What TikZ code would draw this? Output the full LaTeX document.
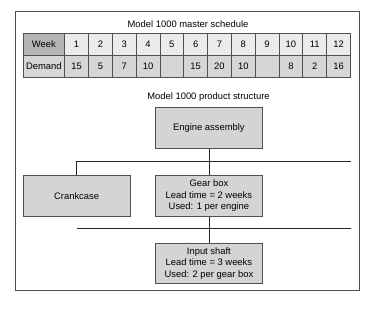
\documentclass[tikz,border=0pt]{standalone}
\usepackage{fontspec}
\setmainfont{Liberation Sans}
\definecolor{hdr}{HTML}{B4B4B4}
\definecolor{rowa}{HTML}{EBEBEB}
\definecolor{rowb}{HTML}{D6D6D6}
\definecolor{boxfill}{HTML}{D4D4D4}
\definecolor{edge}{HTML}{505050}
\begin{document}
\begin{tikzpicture}[x=1pt,y=-1pt,
  every node/.style={font=\fontsize{9.4}{11.6}\selectfont},
  cellstyle/.style={draw=edge,line width=0.8pt,minimum height=22pt,inner sep=0pt,anchor=north west},
  partbox/.style={draw=edge,line width=0.8pt,fill=boxfill,minimum width=107pt,minimum height=41pt,align=center,inner sep=1pt,anchor=north west},
  link/.style={draw=black!85,line width=0.7pt}]
\useasboundingbox (0,0) rectangle (376,311);
\draw[edge,line width=0.8pt] (15,11) rectangle (359,290);
\node (t1) at (188,24) {Model 1000 master schedule};
% table
\node[cellstyle,fill=hdr,minimum width=41.6pt] (wk) at (22.7,33) {Week};
\node[cellstyle,fill=rowb,minimum width=41.6pt] (dm) at (22.7,55) {Demand};
\foreach \i/\d in {1/15,2/5,3/7,4/10,5/,6/15,7/20,8/10,9/,10/8,11/2,12/16}{
  \node[cellstyle,fill=rowa,minimum width=23.81pt] (w\i) at ({64.3+(\i-1)*23.81},33) {\i};
  \node[cellstyle,fill=rowb,minimum width=23.81pt] (d\i) at ({64.3+(\i-1)*23.81},55) {\d};
}
\node (t2) at (208.5,97) {Model 1000 product structure};
\node[partbox] (eng) at (155,107.3) {Engine assembly};
\node[partbox] (crank) at (22.7,175) {Crankcase};
\node[partbox] (gear) at (155,175) {Gear box\\Lead time = 2 weeks\\Used: 1 per engine};
\node[partbox,minimum height=40.6pt] (shaft) at (155,242.7) {Input shaft\\Lead time = 3 weeks\\Used: 2 per gear box};
\coordinate (l1a) at (76.7,161);
\coordinate (l1b) at (350.7,161);
\coordinate (l2a) at (76.7,228.7);
\coordinate (l2b) at (350.7,228.7);
\draw[link] (l1a) -- (l1b);
\draw[link] (l2a) -- (l2b);
\draw[link] (eng.south) -- (gear.north);
\draw[link] (l1a) -- (crank.north -| l1a);
\draw[link] (gear.south) -- (shaft.north);
\end{tikzpicture}
\end{document}
